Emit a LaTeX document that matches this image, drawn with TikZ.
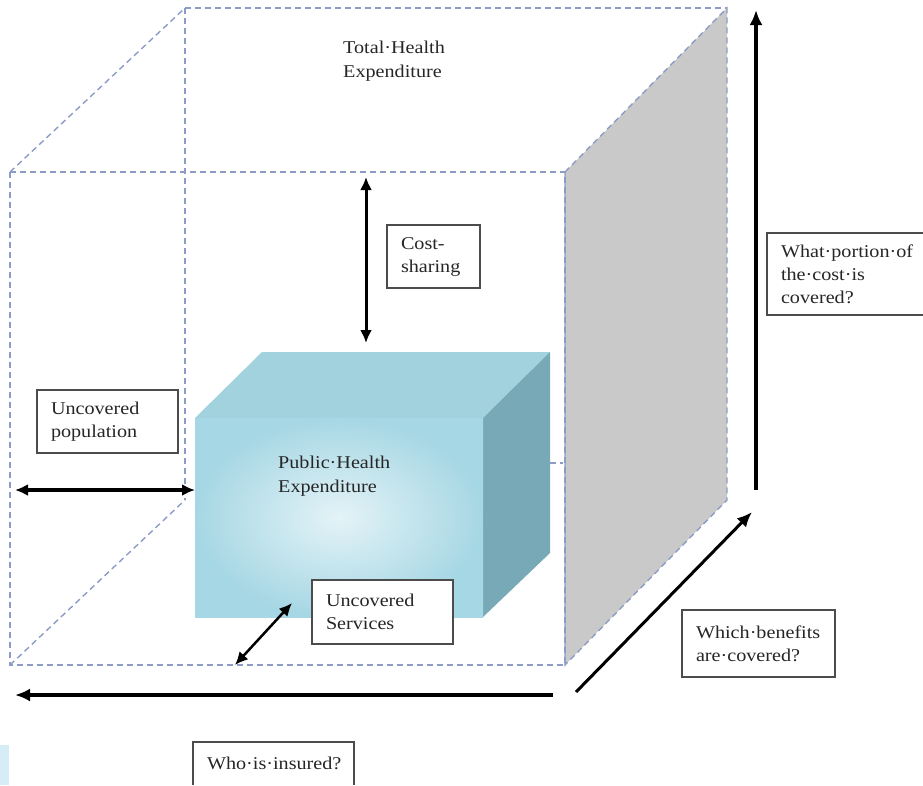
\documentclass[tikz,border=0pt]{standalone}
\usepackage{fontspec}
\setmainfont{Liberation Serif}[FakeStretch=1.12]
\usetikzlibrary{arrows.meta}
\definecolor{edgeblue}{HTML}{8D9CC6}
\definecolor{panelgray}{HTML}{C9C9C9}
\definecolor{boxtop}{HTML}{A3D2DF}
\definecolor{boxside}{HTML}{78A9B7}
\definecolor{boxfront}{HTML}{A6D7E4}
\definecolor{boxlight}{HTML}{E4F3F7}
\definecolor{patch}{HTML}{D6ECF7}
\hyphenpenalty=10000

\begin{document}
\begin{tikzpicture}[x=1pt,y=-1pt,
	hidden/.style={draw=edgeblue,line width=1.4pt,dash pattern=on 6pt off 4pt},
	askbox/.style={draw=black!70,line width=1.2pt,fill=white,anchor=north west,align=left,
		inner xsep=14pt,inner ysep=0pt,outer sep=0pt,font=\fontsize{18}{23}\selectfont,text=black!85},
	plain/.style={anchor=north west,align=left,inner sep=0pt,font=\fontsize{18}{24}\selectfont,text=black!85},
	twoway/.style={line width=3pt,{Latex[length=13pt,width=12pt]}-{Latex[length=13pt,width=12pt]}},
	oneway/.style={line width=3.5pt,-{Latex[length=15pt,width=13pt]}}]
	\useasboundingbox (0,0) rectangle (923,785);
	
	% corners of the outer cube
	\coordinate (1) at (10,172);
	\coordinate (2) at (565,172);
	\coordinate (3) at (565,665);
	\coordinate (4) at (10,665);
	\coordinate (5) at (185,8);
	\coordinate (6) at (727,8);
	\coordinate (7) at (727,500);
	\coordinate (8) at (185,500);
	
	\draw[hidden] (5) -- (6);
	\draw[hidden] (5) -- (8);
	\draw[hidden] (1) -- (5);
	\draw[hidden] (4) -- (8);
	\filldraw[hidden,fill=panelgray] (2) -- (6) -- (7) -- (3) -- cycle;
	\draw[hidden] (550,463) -- (563,463);
	
	% the inner box
	\coordinate (b1) at (195,418);
	\coordinate (b2) at (483,418);
	\coordinate (b3) at (483,617);
	\coordinate (b4) at (195,617);
	\coordinate (b5) at (262,352);
	\coordinate (b6) at (550,352);
	\coordinate (b7) at (550,553);
	
	\fill[boxtop] (b1) -- (b5) -- (b6) -- (b2) -- cycle;
	\fill[boxside] (b2) -- (b6) -- (b7) -- (b3) -- cycle;
	\shade[inner color=boxlight,outer color=boxfront] (b1) rectangle (b3);
	
	\draw[hidden] (1) -- (2) -- (3) -- (4) -- cycle;
	\fill[patch] (0,745) rectangle (9,785);
	
	% texts
	\node[plain] (total) at (343,40.5) {Total·Health\\Expenditure};
	\node[plain] (public) at (278,455.5) {Public·Health\\Expenditure};
	
	\node[askbox,text width=65pt,minimum height=63pt] (cost) at (387,225) {Cost-\\sharing};
	\node[askbox,text width=113pt,minimum height=63pt] (pop) at (37,390) {Uncovered\\population};
	\node[askbox,text width=113pt,minimum height=64pt] (serv) at (312,580) {Uncovered\\Services};
	\node[askbox,text width=125pt,minimum height=67pt] (which) at (682,610) {Which·benefits\\are·covered?};
	\node[askbox,draw=none,text width=128pt,minimum height=82pt] (what) at (767,233) {What·portion·of\\the·cost·is\\covered?};
	\node[askbox,draw=none,text width=133pt,minimum height=43pt] (who) at (193,742) {Who·is·insured?};
	\draw[draw=black!70,line width=1.2pt] (what.north east) -- (what.north west) -- (what.south west) -- (what.south east);
	\draw[draw=black!70,line width=1.2pt] (who.south west) -- (who.north west) -- (who.north east) -- (who.south east);
	
	% arrows
	\coordinate (costtop) at (366,177);
	\coordinate (costbot) at (366,343);
	\coordinate (popl) at (15,490);
	\coordinate (popr) at (195,490);
	\coordinate (servl) at (235,665);
	\coordinate (servr) at (292,603);
	\coordinate (whol) at (15,695);
	\coordinate (whor) at (553,695);
	\coordinate (whichl) at (576,692);
	\coordinate (whichr) at (752,512);
	\coordinate (whatb) at (756,490);
	\coordinate (whatt) at (756,10);
	
	\path [twoway] (costtop) edge (costbot);
	\path [twoway,line width=3.5pt] (popl) edge (popr);
	\path [twoway,line width=2.5pt] (servl) edge (servr);
	\path [oneway,line width=4pt] (whor) edge (whol);
	\path [oneway,line width=3pt] (whichl) edge (whichr);
	\path [oneway] (whatb) edge (whatt);
\end{tikzpicture}
\end{document}
